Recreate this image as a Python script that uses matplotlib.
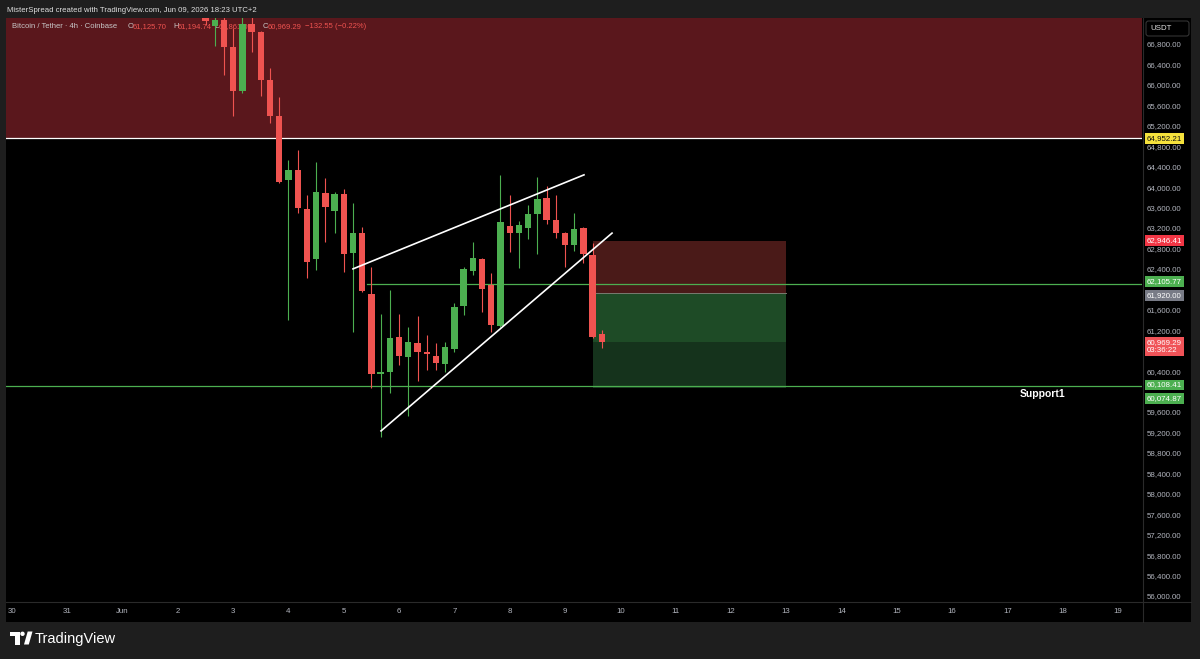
import matplotlib
matplotlib.use("Agg")
import matplotlib.pyplot as plt
import matplotlib.transforms as mtransforms
from matplotlib.patches import Rectangle, Polygon, Circle, FancyBboxPatch
import numpy as np
import pandas as pd

plt.rcParams['font.family'] = ['Liberation Sans', 'DejaVu Sans']

# BTC/USDT 4h candles, first visible bar = 2 Jun 12:00
first_bar = '2026-06-02 12:00'
opens = [67420, 67150, 67270, 66740, 65880, 67190, 67030, 66100, 65390, 64140,
         64335, 63570, 62594, 63885, 63530, 63865, 62710, 63100, 61909, 60344,
         60383, 61067, 60676, 60950, 60774, 60696, 60540, 60833, 61674, 62359,
         62594, 62085, 61283, 63239, 63102, 63200, 63474, 63787, 63357, 63102,
         62867, 63200, 62672, 61125.70]
highs = [67500, 67450, 67500, 67110, 67400, 67450, 67060, 66330, 65760, 64530,
         64730, 63845, 64490, 64180, 63900, 63960, 63690, 63220, 62437, 61517,
         61987, 61517, 61263, 61478, 61107, 60950, 60970, 61733, 62437, 62926,
         62613, 62320, 64237, 63846, 63337, 63650, 64198, 64022, 63846, 63130,
         63494, 63220, 62907, 61194.74]
lows = [67180, 66770, 66190, 65390, 65850, 66640, 65780, 65250, 64080, 61400,
        63490, 62220, 62380, 62925, 63100, 62340, 61165, 61950, 60070, 59111,
        59972, 60520, 59522, 60207, 60422, 60422, 60383, 60774, 61498, 62280,
        61557, 61165, 61260, 62730, 62418, 62985, 62691, 63278, 63004, 62437,
        62750, 62515, 61050, 60861]
closes = [67250, 67260, 66740, 65880, 67190, 67030, 66100, 65390, 64100, 64335,
          63590, 62535, 63905, 63610, 63865, 62690, 63100, 61967, 60344, 60380,
          61048, 60696, 60970, 60774, 60735, 60559, 60872, 61654, 62398, 62613,
          62007, 61302, 63318, 63102, 63259, 63474, 63767, 63357, 63102, 62867,
          63180, 62691, 61067, 60969.29]

# horizontal levels
resistance = 64952.21
support1 = 60108.41
mid_level = 62105.77
mid_level_start = '2026-06-05 10:00'

# short position tool
stop_price = 62946.41
entry_price = 61920.00
target_price = 60074.87
last_price = 60969.29
pos_start = '2026-06-09 12:00'
pos_end = '2026-06-13 00:00'

# rising wedge
upper_t = ['2026-06-05 04:00', '2026-06-09 08:15']
upper_p = [62400, 64240]
lower_t = ['2026-06-05 16:10', '2026-06-09 20:25']
lower_p = [59230, 63100]

day_ticks = ['2026-05-30', '2026-05-31', '2026-06-01', '2026-06-02', '2026-06-03',
             '2026-06-04', '2026-06-05', '2026-06-06', '2026-06-07', '2026-06-08',
             '2026-06-09', '2026-06-10', '2026-06-11', '2026-06-12', '2026-06-13',
             '2026-06-14', '2026-06-15', '2026-06-16', '2026-06-17', '2026-06-18',
             '2026-06-19']
day_labels = ['30', '31', 'Jun', '2', '3', '4', '5', '6', '7', '8', '9', '10',
              '11', '12', '13', '14', '15', '16', '17', '18', '19']
# scale labels (those hidden under price tags in the original are left out)
price_ticks = [56000, 56400, 56800, 57200, 57600, 58000, 58400, 58800, 59200,
               59600, 60400, 61200, 61600, 62400, 62800,
               63200, 63600, 64000, 64400, 64800, 65200, 65600, 66000, 66400, 66800]

GREEN = '#4caf50'
RED = '#ef5350'
AXCOL = '#b2b5be'
T0 = pd.Timestamp('2026-06-01')


def days(ts):
    return (pd.to_datetime(ts) - T0) / pd.Timedelta('1D')


W, H = 1200, 659
fig = plt.figure(figsize=(W / 100, H / 100), dpi=100, facecolor='#1e1e1e')

# full-figure pixel axes for the frame, panels and logo
deco = fig.add_axes([0, 0, 1, 1], zorder=-1)
deco.set_xlim(0, W)
deco.set_ylim(H, 0)
deco.axis('off')
deco.add_patch(Rectangle((6, 18), 1185, 604, fc='black', ec='none'))
deco.plot([1143, 1143], [18, 622], color='#2a2a2a', lw=0.8)
deco.plot([6, 1191], [602, 602], color='#2a2a2a', lw=0.8)
deco.text(7, 10, 'MisterSpread created with TradingView.com, Jun 09, 2026 18:23 UTC+2',
          color='#e0e0e0', fontsize=5.6, va='center', ha='left')
# TradingView logo
deco.add_patch(Rectangle((10, 631.5), 9.5, 4.5, fc='white', ec='none'))
deco.add_patch(Rectangle((15, 631.5), 4.5, 13, fc='white', ec='none'))
deco.add_patch(Circle((22.5, 633.8), 2.2, fc='white', ec='none'))
deco.add_patch(Polygon([[24, 644.5], [28.8, 644.5], [32.5, 631.5], [27.7, 631.5]],
                       fc='white', ec='none'))
deco.text(35, 638.5, 'TradingView', color='white', fontsize=10.5, va='center', ha='left')
# currency box
deco.add_patch(FancyBboxPatch((1146, 21), 43, 15, boxstyle='round,pad=0,rounding_size=2.5',
                              fc='black', ec='#3a3a3a', lw=0.7))
deco.text(1150, 28.5, 'USDT', color='#e0e0e0', fontsize=5.7, va='center', ha='left')

ax = fig.add_axes([6 / W, 1 - 602 / H, 1136 / W, 584 / H])
ax.set_facecolor('none')
for s in ax.spines.values():
    s.set_visible(False)

t = days(pd.date_range(first_bar, periods=len(opens), freq='4h'))
o = np.array(opens)
c = np.array(closes)
up = c >= o
cols = np.where(up, GREEN, RED)
bottom = np.minimum(o, c)
height = np.maximum(np.abs(c - o), 25)
ax.vlines(t, lows, highs, colors=cols, lw=0.8, zorder=3)
ax.bar(t, height, bottom=bottom, width=0.115, color=cols, zorder=4)

xmin, xmax = -2.108, 18.434
ax.set_xlim(xmin, xmax)
ax.set_ylim(55882.7, 67308.7)

# resistance zone
ax.axhspan(resistance, 70000, color='#5a171c', lw=0, zorder=0.5)
ax.axhline(resistance, color='white', lw=0.9, zorder=2)
ax.axhline(support1, color=GREEN, lw=0.9, zorder=2)
ax.plot([days(mid_level_start), xmax], [mid_level, mid_level], color=GREEN, lw=0.9, zorder=2)

# position tool
x0, x1 = days(pos_start), days(pos_end)
ax.add_patch(Rectangle((x0, entry_price), x1 - x0, stop_price - entry_price,
                       fc='#4a1a18', ec='none', zorder=1))
ax.add_patch(Rectangle((x0, last_price), x1 - x0, entry_price - last_price,
                       fc='#1e4b26', ec='none', zorder=1))
ax.add_patch(Rectangle((x0, target_price), x1 - x0, last_price - target_price,
                       fc='#15331c', ec='none', zorder=1))
ax.plot([x0, x1], [entry_price, entry_price], color='#7a7a70', lw=0.7, zorder=1.5)

# wedge
ax.plot(days(upper_t), upper_p, color='white', lw=1.2, zorder=5)
ax.plot(days(lower_t), lower_p, color='white', lw=1.2, zorder=5)

ax.text(days('2026-06-17 15:20'), support1 - 55, 'Support1', color='white',
        fontsize=7.5, fontweight='bold', ha='center', va='top', zorder=6)

# legend line (drawn beneath candles)
leg_y = 27
ax.text(12, leg_y, 'Bitcoin / Tether · 4h · Coinbase', transform=deco.transData,
        color='#c8c8c8', fontsize=5.5, va='center', zorder=2)
for px, letter, val in [(128, 'O', '61,125.70'), (173, 'H', '61,194.74'),
                        (214, 'L', '60,861.00'), (263, 'C', '60,969.29')]:
    ax.text(px, leg_y, letter, transform=deco.transData, color='#c8c8c8',
            fontsize=5.5, va='center', zorder=2)
    ax.text(px + 4.5, leg_y, val, transform=deco.transData, color=RED,
            fontsize=5.5, va='center', zorder=2)
ax.text(305, leg_y, '−132.55 (−0.22%)', transform=deco.transData, color=RED,
        fontsize=5.5, va='center', zorder=2)

# axes ticks
ax.set_xticks(days(day_ticks))
ax.set_xticklabels(day_labels)
ax.yaxis.tick_right()
ax.set_yticks(price_ticks)
ax.set_yticklabels([f'{p:,.2f}' for p in price_ticks])
ax.tick_params(axis='both', length=0, labelsize=5.7, labelcolor=AXCOL)
ax.tick_params(axis='x', pad=4.5)
ax.tick_params(axis='y', pad=3.5)

# price tags on the scale
tr = mtransforms.blended_transform_factory(ax.transAxes, ax.transData)


def tag(y, s, bg, fg='white'):
    ax.text(1.0044, y, s, transform=tr, ha='left', va='center', fontsize=5.7,
            color=fg, clip_on=False, zorder=8, linespacing=1.1,
            bbox=dict(boxstyle='square,pad=0.25', fc=bg, ec='none'))


tag(resistance, f'{resistance:,.2f}', '#f5e13c', '#111111')
tag(stop_price, f'{stop_price:,.2f}', '#f23645')
tag(mid_level + 40, f'{mid_level:,.2f}', GREEN)
tag(entry_price - 40, f'{entry_price:,.2f}', '#787b86')
tag(last_price - 90, f'{last_price:,.2f}\n03:36:22', '#f05358')
tag(support1 + 20, f'{support1:,.2f}', GREEN)
tag(target_price - 210, f'{target_price:,.2f}', GREEN)

fig.savefig('out.png', dpi=100, facecolor=fig.get_facecolor())
